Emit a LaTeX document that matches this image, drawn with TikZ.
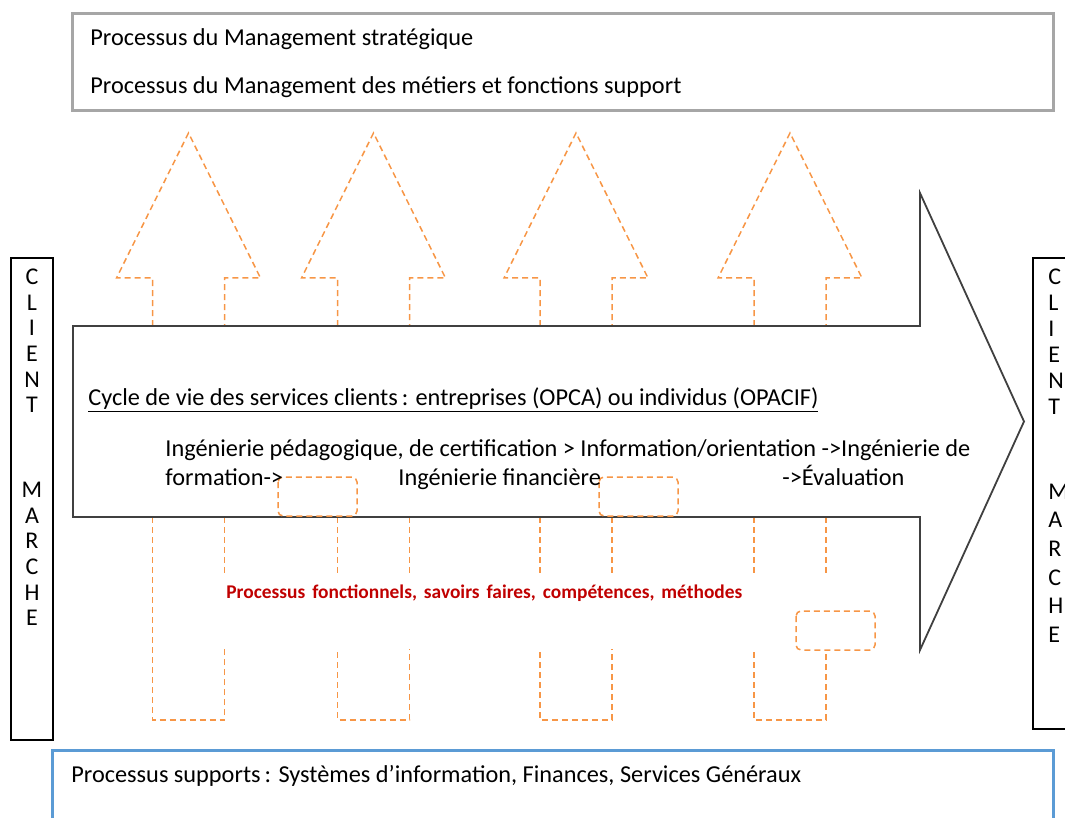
\documentclass[tikz,border=0pt]{standalone}
\usepackage{fontspec}
\setmainfont{Carlito}
\definecolor{fluxorange}{HTML}{F79646}
\definecolor{cadregris}{HTML}{A6A6A6}
\definecolor{cadrebleu}{HTML}{5B9BD5}
\definecolor{rougetexte}{HTML}{C00000}
\tikzset{
  flux/.style={fluxorange, line width=0.75pt, dash pattern=on 3pt off 2pt},
  cycle/.style={draw=black!75, line width=0.9pt, fill=white},
  clientbox/.style={draw=black, line width=0.6pt},
  txt/.style={inner sep=0pt, anchor=base west}
}
\begin{document}
\begin{tikzpicture}[x=0.5pt, y=-0.5pt, font=\fontsize{12.15}{14}\selectfont]
\useasboundingbox (0,0) rectangle (1065,818);
\clip (0,0) rectangle (1065,818);

\draw[cadregris, line width=1.5pt] (72,14) rectangle (1053,111);
\node[txt] (strat) at (90,46) {Processus du Management stratégique};
\node[txt] (metiers) at (90,94) {Processus du Management des métiers et fonctions support};

\foreach \cx in {188.5,373.5,576,790} {
  \draw[flux] (\cx-36,326) -- (\cx-36,278) -- (\cx-72,278) -- (\cx,133)
    -- (\cx+72,278) -- (\cx+36,278) -- (\cx+36,326);
  \draw[flux] (\cx+36,517) -- (\cx+36,573);
}
\draw[flux] (152.5,517) -- (152.5,720) -- (224.5,720) -- (224.5,649);
\foreach \cx in {373.5,576} {
  \draw[flux] (\cx-36,517) -- (\cx-36,575);
  \draw[flux] (\cx-36,652) -- (\cx-36,720) -- (\cx+36,720) -- (\cx+36,649);
}
\draw[flux] (754,517) -- (754,575);
\draw[flux] (754,652) -- (754,720) -- (826,720) -- (826,650);

\draw[cycle] (73,326) -- (920,326) -- (920,193) -- (1024,421.5)
  -- (920,650) -- (920,517) -- (73,517) -- cycle;

\draw[flux, rounded corners=2.5pt] (278,477) rectangle (357,516);
\draw[flux, rounded corners=2.5pt] (599,477) rectangle (678,516);
\draw[flux, rounded corners=2.5pt] (796,611) rectangle (875,650);

\node[txt] (cyclevie) at (88,405) {\underline{Cycle de vie des services clients\,: entreprises (OPCA) ou individus (OPACIF)}};
\node[txt] (inge) at (165,456) {Ingénierie pédagogique, de certification > Information/orientation ->Ingénierie de};
\node[txt] (forma) at (165,485) {formation->};
\node[txt] (finance) at (398,485) {Ingénierie financière};
\node[txt] (evalu) at (782,485) {->Évaluation};

\node[txt, text=rougetexte, font=\fontsize{9.7}{11}\selectfont\bfseries] (fonct) at (226,598)
  {\spaceskip=0.36em plus 0.1em\relax Processus fonctionnels, savoirs faires, compétences, méthodes};

\draw[clientbox] (11,258) rectangle (53,740);
\node[inner sep=0pt, align=center, font=\fontsize{12}{12.8}\selectfont] (clientg) at (32,341) {C\\L\\I\\E\\N\\T};
\node[inner sep=0pt, align=center, font=\fontsize{12}{12.8}\selectfont] (marcheg) at (32,554) {M\\A\\R\\C\\H\\E};

\draw[clientbox] (1033,258) rectangle (1090,729);
\node[inner sep=0pt, align=left, anchor=west, font=\fontsize{12}{13}\selectfont] (clientd) at (1048,342) {C\\L\\I\\E\\N\\T};
\node[inner sep=0pt, align=left, anchor=west, font=\fontsize{12}{14.3}\selectfont] (marched) at (1048,563) {M\\A\\R\\C\\H\\E};

\draw[cadrebleu, line width=1.5pt] (52,750) rectangle (1053,840);
\node[txt] (supports) at (71,782) {Processus supports\,: Systèmes d’information, Finances, Services Généraux};
\end{tikzpicture}
\end{document}
